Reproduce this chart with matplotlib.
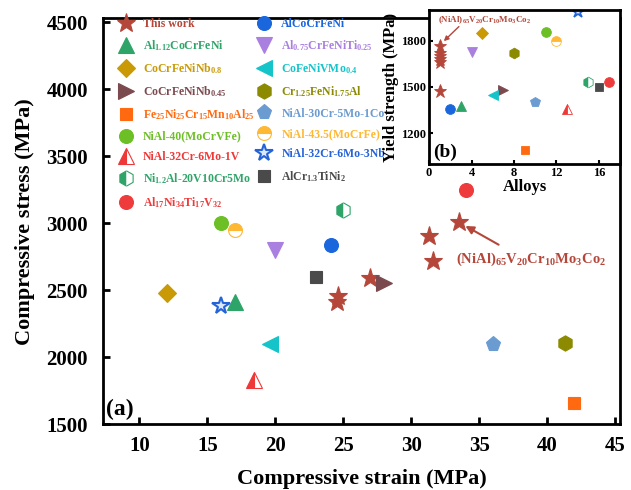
import matplotlib
matplotlib.use("Agg")
import matplotlib.pyplot as plt

plt.rcParams['font.family'] = ['Liberation Serif', 'DejaVu Serif']
plt.rcParams['font.weight'] = 'bold'
plt.rcParams['axes.labelweight'] = 'bold'
plt.rcParams['mathtext.fontset'] = 'custom'
plt.rcParams['mathtext.rm'] = 'Liberation Serif:bold'
plt.rcParams['mathtext.it'] = 'Liberation Serif:bold'
plt.rcParams['mathtext.bf'] = 'Liberation Serif:bold'

# ---- data ----
labels = ['This work',
          'Al$_{1.12}$CoCrFeNi',
          'CoCrFeNiNb$_{0.8}$',
          'CoCrFeNiNb$_{0.45}$',
          'Fe$_{25}$Ni$_{25}$Cr$_{15}$Mn$_{10}$Al$_{25}$',
          'NiAl-40(MoCrVFe)',
          'NiAl-32Cr-6Mo-1V',
          'Ni$_{1.2}$Al-20V10Cr5Mo',
          'Al$_{17}$Ni$_{34}$Ti$_{17}$V$_{32}$',
          'AlCoCrFeNi',
          'Al$_{0.75}$CrFeNiTi$_{0.25}$',
          'CoFeNiVMo$_{0.4}$',
          'Cr$_{1.25}$FeNi$_{1.75}$Al',
          'NiAl-30Cr-5Mo-1Co',
          'NiAl-43.5(MoCrFe)',
          'NiAl-32Cr-6Mo-3Nb',
          'AlCr$_{1.3}$TiNi$_2$']

# main plot: compressive strain / stress
strain = [[33.5, 31.3, 31.6, 27.0, 24.6, 24.5],
          [17.0], [12.0], [28.0], [42.0], [16.0], [18.4], [25.0], [34.0],
          [24.1], [20.0], [19.6], [41.3], [36.0], [17.0], [16.0], [23.0]]
stress = [[3010, 2905, 2715, 2595, 2460, 2410],
          [2410], [2480], [2555], [1660], [3000], [1830], [3100], [3250],
          [2840], [2800], [2100], [2110], [2100], [2950], [2380], [2600]]

# inset: alloy number / yield strength
alloy = [[1, 1, 1, 1, 1, 1],
         [3], [5], [7], [9], [11], [13], [15], [17],
         [2], [4], [6], [8], [10], [12], [14], [16]]
yield_strength = [[1765, 1720, 1700, 1680, 1660, 1475],
                  [1375], [1850], [1480], [1090], [1855], [1360], [1530], [1530],
                  [1355], [1725], [1450], [1720], [1400], [1800], [1990], [1500]]

# ---- styles ----
colors = ['#B5473A', '#2FA468', '#C99A06', '#7B4A4F', '#FF6A10', '#6CBF25',
          '#EE3838', '#2FA468', '#EE3B3B', '#1A66DD', '#A97FE0', '#14C4C8',
          '#8B8A00', '#6A9BD1', '#FFB833', '#2563D9', '#4A4A4A']
markers = ['*', '^', 'D', '>', 's', 'o', '^', 'h', 'o',
           'o', 'v', '<', 'h', 'p', 'o', '*', 's']
fills = ['full'] * 17
fills[6] = 'left'
fills[7] = 'left'
fills[14] = 'top'
sizes = [14, 11, 9, 11, 9, 10, 11, 11, 10, 10, 11, 11, 11, 11, 10, 13, 9]

fig = plt.figure(figsize=(6.31, 4.9), dpi=100)
ax = fig.add_axes([0.1637, 0.1337, 0.8189, 0.8296])

handles = []
for i in range(17):
    face = colors[i]
    mew = 0.8
    if i == 15:
        face = '#DCE8FB'
        mew = 1.5
    h, = ax.plot(strain[i], stress[i], linestyle='none', marker=markers[i],
                 ms=sizes[i], color=colors[i], markerfacecolor=face,
                 markeredgecolor=colors[i], markeredgewidth=mew,
                 fillstyle=fills[i], markerfacecoloralt='white', label=labels[i])
    handles.append(h)

ax.set_xlim(7.35, 45.35)
ax.set_ylim(1500, 4530)
ax.set_xticks([10, 15, 20, 25, 30, 35, 40, 45])
ax.set_yticks([1500, 2000, 2500, 3000, 3500, 4000, 4500])
ax.tick_params(direction='in', length=5, width=2, labelsize=15)
ax.tick_params(axis='x', pad=8)
ax.tick_params(axis='y', pad=11)
for s in ax.spines.values():
    s.set_linewidth(2)
ax.set_xlabel('Compressive strain (MPa)', fontsize=16, labelpad=10)
ax.set_ylabel('Compressive stress (MPa)', fontsize=16, labelpad=8)
ax.text(7.55, 1610, '(a)', fontsize=17, va='center', ha='left')

ax.annotate('', xy=(33.8, 2990), xytext=(36.6, 2830),
            arrowprops=dict(arrowstyle='-|>', color=colors[0], lw=1.5,
                            mutation_scale=12))
ax.text(33.3, 2730, '(NiAl)$_{65}$V$_{20}$Cr$_{10}$Mo$_3$Co$_2$',
        color=colors[0], fontsize=10.5, va='center', ha='left')

leg = ax.legend(handles=handles, ncol=2, loc='upper left',
                bbox_to_anchor=(0.175, 0.976), bbox_transform=fig.transFigure,
                frameon=False, fontsize=8.5, handlelength=1.6,
                handletextpad=0.65, columnspacing=0.0, labelspacing=0.71,
                borderpad=0, numpoints=1)
for t, c in zip(leg.get_texts(), colors):
    t.set_color(c)

# ---- inset ----
ins = fig.add_axes([0.680, 0.6653, 0.3026, 0.3143])
for i in range(17):
    face = colors[i]
    mew = 0.6
    if i == 15:
        face = '#DCE8FB'
        mew = 1.2
    ins.plot(alloy[i], yield_strength[i], linestyle='none', marker=markers[i],
             ms=sizes[i] * 0.7, color=colors[i], markerfacecolor=face,
             markeredgecolor=colors[i], markeredgewidth=mew,
             fillstyle=fills[i], markerfacecoloralt='white', clip_on=True)
ins.set_xlim(0, 18)
ins.set_ylim(1000, 2000)
ins.set_xticks([0, 4, 8, 12, 16])
ins.set_yticks([1200, 1500, 1800])
ins.tick_params(direction='in', length=3, width=1.5, labelsize=9, pad=2)
for s in ins.spines.values():
    s.set_linewidth(2)
ins.set_xlabel('Alloys', fontsize=12, labelpad=0)
ins.set_ylabel('Yield strength (MPa)', fontsize=12, labelpad=2)
ins.text(0.35, 1075, '(b)', fontsize=14, va='center', ha='left')
ins.annotate('', xy=(1.2, 1785), xytext=(3.0, 1905),
             arrowprops=dict(arrowstyle='-|>', color=colors[0], lw=1.0,
                             mutation_scale=7))
ins.text(5.2, 1935, '(NiAl)$_{65}$V$_{20}$Cr$_{10}$Mo$_3$Co$_2$',
         color=colors[0], fontsize=6.5, va='center', ha='center')

fig.savefig('out.png', dpi=100)
